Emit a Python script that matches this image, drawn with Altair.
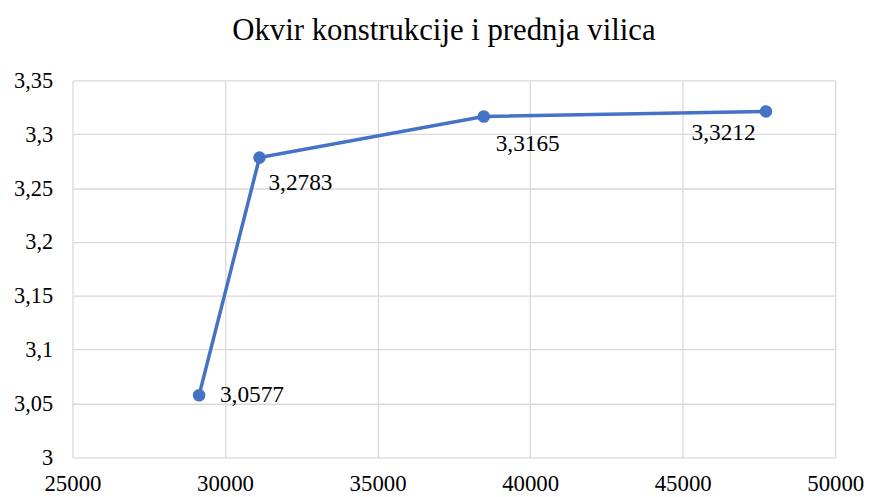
import altair as alt
import pandas as pd

title_text = "Okvir konstrukcije i prednja vilica"
x_vals = [29150, 31130, 38480, 47730]
y_vals = [3.0577, 3.2783, 3.3165, 3.3212]
labels = ["3,0577", "3,2783", "3,3165", "3,3212"]
x_ticks = [25000, 30000, 35000, 40000, 45000, 50000]
y_ticks = [3.0, 3.05, 3.1, 3.15, 3.2, 3.25, 3.3, 3.35]

# label offsets (dx, dy) in pixels
label_offsets = [(21, 0), (9, 26), (12, 28), (-75, 22)]

df = pd.DataFrame({"x": x_vals, "y": y_vals, "label": labels})

FONT = "'Liberation Serif', 'Times New Roman', serif"
COLOR = "#4472C4"

xenc = alt.X("x:Q", scale=alt.Scale(domain=[25000, 50000], nice=False, zero=False),
             axis=alt.Axis(values=x_ticks, format="d", title=None, grid=True, domain=False,
                           ticks=False, labelPadding=15, labelFont=FONT, labelFontSize=23,
                           labelColor="#000000", gridColor="#d9d9d9", gridWidth=1.3,
                           labelFlush=False))
yenc = alt.Y("y:Q", scale=alt.Scale(domain=[3.0, 3.35], nice=False, zero=False),
             axis=alt.Axis(values=y_ticks, title=None, grid=True, domain=False, ticks=False,
                           labelExpr="replace(format(datum.value, '.2~f'), '.', ',')",
                           labelPadding=20, labelFont=FONT, labelFontSize=22.5,
                           labelColor="#000000", gridColor="#d9d9d9", gridWidth=1.3))

base = alt.Chart(df)
line = base.mark_line(color=COLOR, strokeWidth=3.5).encode(x=xenc, y=yenc)
pts = base.mark_point(filled=True, color=COLOR, size=160, opacity=1).encode(x="x:Q", y="y:Q")

texts = []
for i, (dx, dy) in enumerate(label_offsets):
    texts.append(
        alt.Chart(df.iloc[[i]]).mark_text(align="left", baseline="middle", dx=dx, dy=dy,
                                           font=FONT, fontSize=23.5, color="#000000")
        .encode(x="x:Q", y="y:Q", text="label:N")
    )

chart = alt.layer(line, pts, *texts).properties(
    width=769, height=380,
    title=alt.TitleParams(title_text, font=FONT, fontSize=31, fontWeight="normal",
                          color="#000000", anchor="middle", offset=23, dx=-10),
    autosize=alt.AutoSizeParams(type="none"),
    padding={"left": 65, "top": 71, "right": 31, "bottom": 38},
).configure_view(stroke=None)

chart.save("out.html", embed_options={"renderer": "svg", "actions": False})
